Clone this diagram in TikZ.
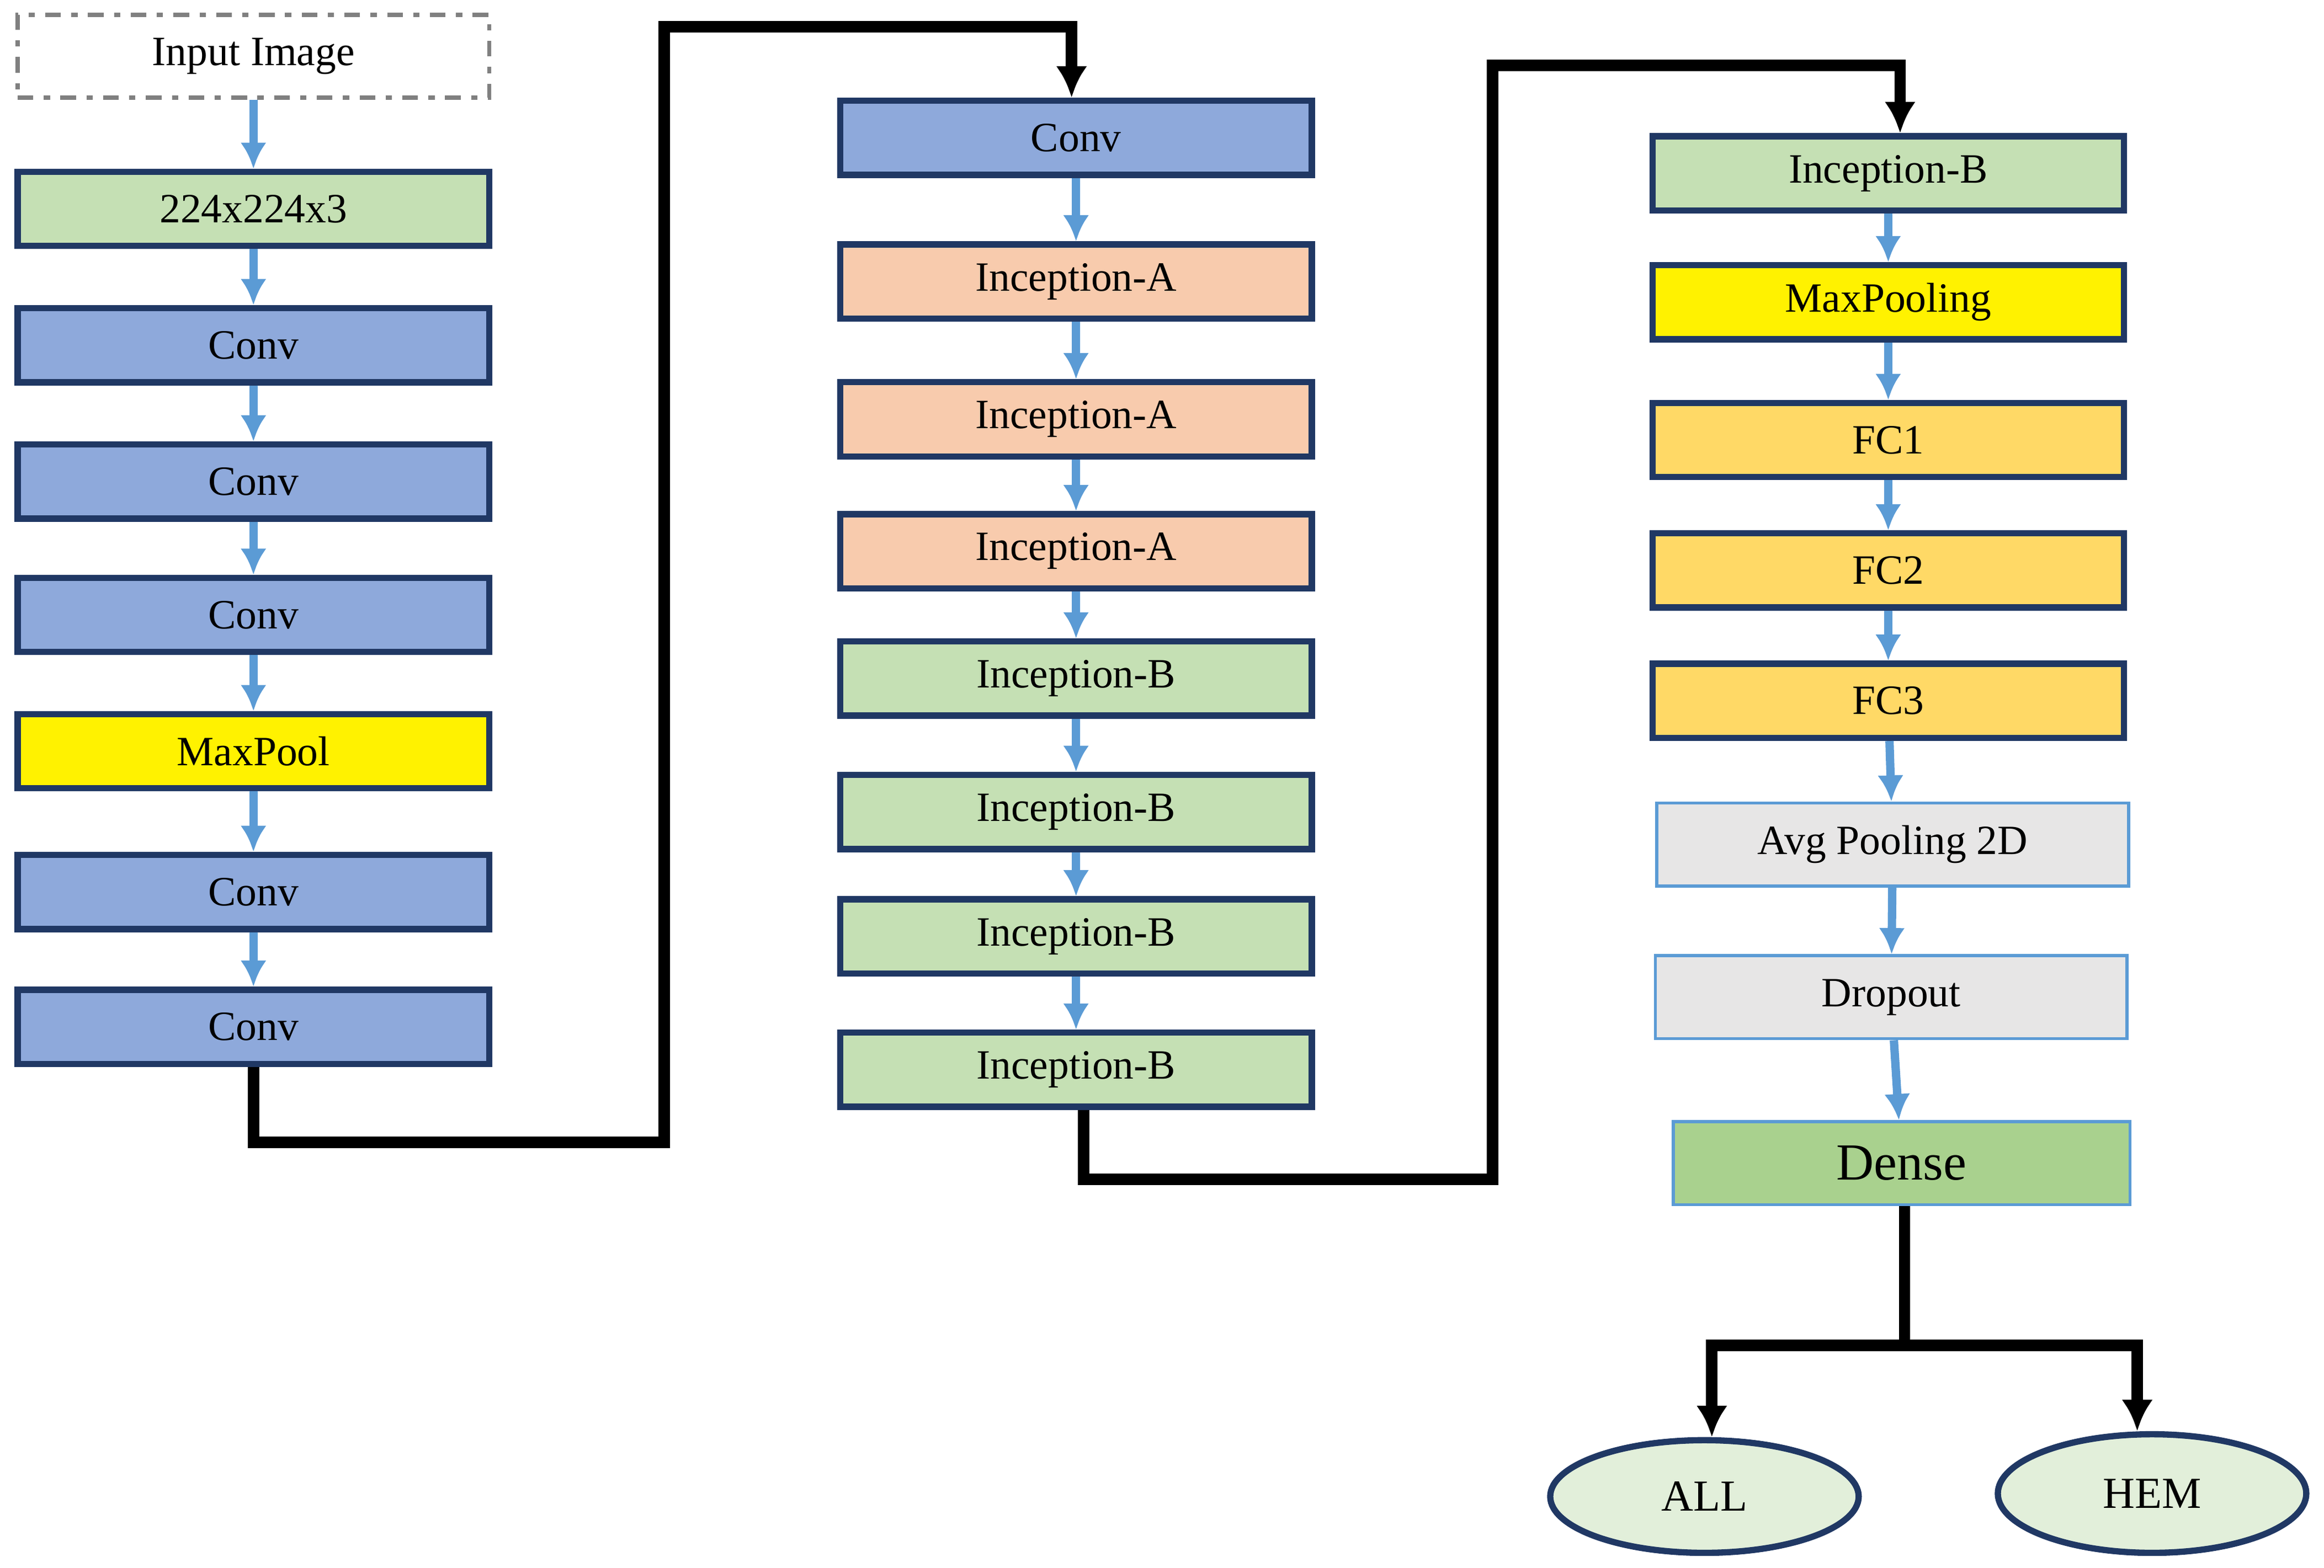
\documentclass[tikz,border=0pt]{standalone}
\usepackage{fontspec}
\setmainfont{Liberation Serif}
\usetikzlibrary{arrows.meta,shapes.geometric}
\definecolor{convblue}{HTML}{8EA9DB}
\definecolor{incpeach}{HTML}{F8CBAD}
\definecolor{incgreen}{HTML}{C5E0B4}
\definecolor{fcorange}{HTML}{FFD966}
\definecolor{lightgray}{HTML}{E7E6E6}
\definecolor{densegreen}{HTML}{A9D18E}
\definecolor{outgreen}{HTML}{E2EFDA}
\definecolor{edge}{HTML}{203864}
\definecolor{flowblue}{HTML}{5B9BD5}
\begin{document}
\begin{tikzpicture}[x=0.01cm, y=-0.01cm,
    box/.style={draw=edge, line width=1.2pt, minimum width=3.18cm, minimum height=0.5cm,
        inner sep=0pt, font=\fontsize{8}{9}\selectfont},
    conv/.style={box, fill=convblue},
    incA/.style={box, fill=incpeach},
    incB/.style={box, fill=incgreen},
    pool/.style={box, fill=yellow},
    fc/.style={box, fill=fcorange},
    soft/.style={box, draw=flowblue, line width=0.6pt, fill=lightgray, minimum height=0.56cm},
    flow/.style={draw=flowblue, line width=1.6pt, -{Latex[length=5pt,width=5pt]}},
    route/.style={line width=2.2pt, -{Latex[length=6pt,width=6pt]}}]
    \useasboundingbox (0,0) rectangle (1568,1058);

    % first column
    \node[box, draw=gray, dash dot, line width=0.8pt, minimum height=0.56cm] (in) at (171,38) {Input Image};
    \node[incB] (size) at (171,141) {224x224x3};
    \node[conv] (c1) at (171,233) {Conv};
    \node[conv] (c2) at (171,325) {Conv};
    \node[conv] (c3) at (171,415) {Conv};
    \node[pool] (mp1) at (171,507) {MaxPool};
    \node[conv] (c4) at (171,602) {Conv};
    \node[conv] (c5) at (171,693) {Conv};

    % second column
    \node[conv] (d1) at (726,93) {Conv};
    \node[incA] (a1) at (726,190) {Inception-A};
    \node[incA] (a2) at (726,283) {Inception-A};
    \node[incA] (a3) at (726,372) {Inception-A};
    \node[incB] (b1) at (726,458) {Inception-B};
    \node[incB] (b2) at (726,548) {Inception-B};
    \node[incB] (b3) at (726,632) {Inception-B};
    \node[incB] (b4) at (726,722) {Inception-B};

    % third column
    \node[incB] (e1) at (1274,117) {Inception-B};
    \node[pool] (mp2) at (1274,204) {MaxPooling};
    \node[fc] (fc1) at (1274,297) {FC1};
    \node[fc] (fc2) at (1274,385) {FC2};
    \node[fc] (fc3) at (1274,473) {FC3};
    \node[soft] (avg) at (1277,570) {Avg Pooling 2D};
    \node[soft] (drop) at (1276,673) {Dropout};
    \node[soft, fill=densegreen, minimum width=3.08cm, font=\fontsize{10}{12}\selectfont] (dense) at (1283,785) {Dense};

    \node[ellipse, draw=edge, line width=1.2pt, fill=outgreen, minimum width=2.08cm, minimum height=0.76cm,
        font=\fontsize{8.5}{10}\selectfont] (all) at (1150,1010) {ALL};
    \node[ellipse, draw=edge, line width=1.2pt, fill=outgreen, minimum width=2.08cm, minimum height=0.8cm,
        font=\fontsize{8.5}{10}\selectfont] (hem) at (1452,1008) {HEM};

    \foreach \a/\b in {in/size, size/c1, c1/c2, c2/c3, c3/mp1, mp1/c4, c4/c5,
        d1/a1, a1/a2, a2/a3, a3/b1, b1/b2, b2/b3, b3/b4,
        e1/mp2, mp2/fc1, fc1/fc2, fc2/fc3, fc3/avg, avg/drop, drop/dense}
        \draw[flow] (\a) -- (\b);

    \draw[route] (c5.south) |- (448,771) |- (723,18) -- (d1.north -| 723,0);
    \draw[route] (b4.south -| 731,0) |- (1007,796) |- (1282,44) -- (e1.north -| 1282,0);
    \coordinate (split) at (1285,908);
    \draw[line width=2.2pt] (dense.south -| split) -- (split);
    \draw[route] (split) -| (all.north -| 1155,0);
    \draw[route] (split) -| (hem.north -| 1442,0);
\end{tikzpicture}
\end{document}
